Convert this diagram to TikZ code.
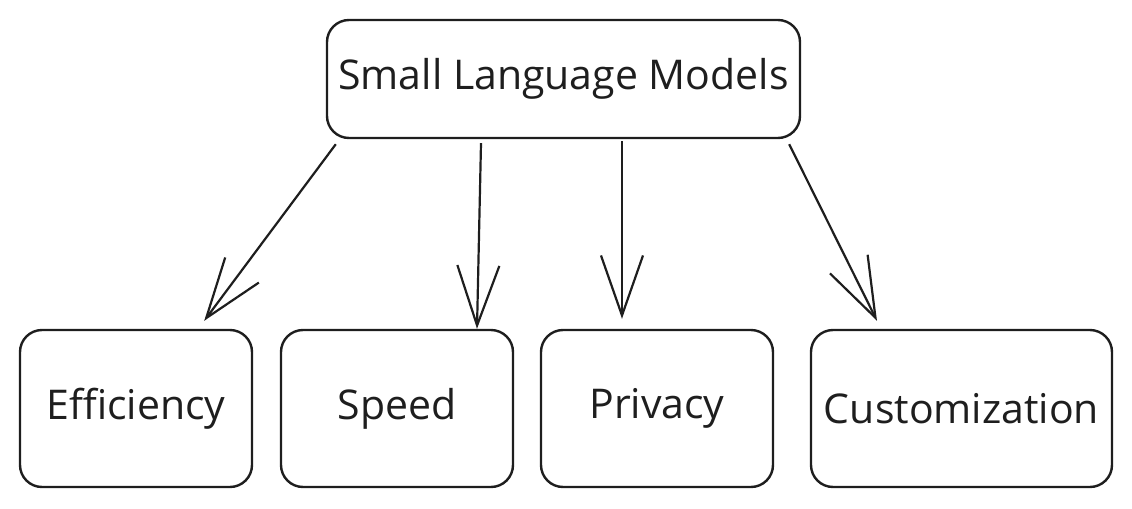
\documentclass[tikz,border=0pt]{standalone}
\usepackage{fontspec}
\setmainfont{Open Sans}
\usepackage{tikz}
\usetikzlibrary{arrows.meta}
\definecolor{ink}{HTML}{1E1E1E}
\tikzset{
  box/.style={draw=ink, line width=1.2pt, rounded corners=11pt, inner sep=0pt,
    text=ink, font=\fontsize{20.5}{24}\selectfont},
  smallbox/.style={box, minimum width=116pt, minimum height=78.5pt},
  arr/.style={draw=ink, line width=1.1pt, -{Straight Barb[length=30pt, width=21pt]}}
}

\begin{document}
\begin{tikzpicture}[x=0.5pt, y=-0.5pt]
\useasboundingbox (0,0) rectangle (1132,509);
\node[box, minimum width=236.5pt, minimum height=59pt] (slm) at (563.5,79) {Small Language Models};
\node[smallbox] (eff) at (136,408.5) {Efficiency};
\node[smallbox] (speed) at (397,408.5) {Speed};
\node[smallbox] (priv) at (657,408.5) {Privacy};
\node[smallbox, minimum width=150.5pt] (cust) at (961.5,408.5) {Customization};
\draw[arr] ([xshift=5pt,yshift=-2.5pt]slm.south west) -- ([xshift=-24.5pt,yshift=4pt]eff.north east);
\draw[arr] ([xshift=-41.25pt,yshift=-2pt]slm.south) -- ([xshift=40pt]speed.north);
\draw[arr] ([xshift=29.25pt,yshift=-1pt]slm.south) -- ([xshift=-17.5pt,yshift=5pt]priv.north);
\draw[arr] ([xshift=-6pt,yshift=-2.5pt]slm.south east) -- ([xshift=-42.25pt,yshift=4pt]cust.north);
\end{tikzpicture}
\end{document}
